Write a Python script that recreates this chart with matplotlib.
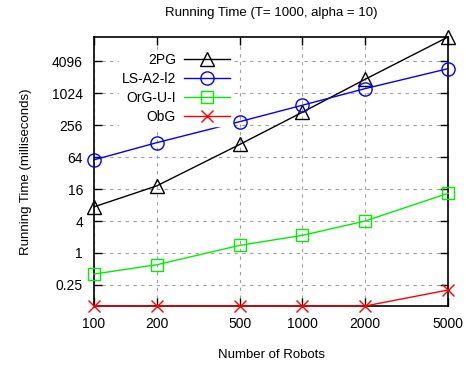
import matplotlib
matplotlib.use("Agg")
import matplotlib.pyplot as plt
from matplotlib.ticker import FixedLocator, NullLocator

plt.rcParams['font.family'] = ['Liberation Sans', 'DejaVu Sans']

robots = [100, 200, 500, 1000, 2000, 5000]
pg2 = [7.4, 18.4, 111, 450, 1880, 11800]
ls_a2_l2 = [57, 120, 299, 610, 1255, 2983]
org_u_i = [0.4, 0.6, 1.39, 2.15, 4.0, 13.3]
obg = [0.1, 0.1, 0.1, 0.1, 0.1, 0.2]
yticks = [0.25, 1, 4, 16, 64, 256, 1024, 4096]
ytick_labels = ['0.25', '1', '4', '16', '64', '256', '1024', '4096']
xtick_labels = ['100', '200', '500', '1000', '2000', '5000']

fig = plt.figure(figsize=(4.66, 3.68), dpi=100)
ax = fig.add_axes([94/466, 1-306/368, (448-94)/466, (306-37)/368])

ax.set_xscale('log')
ax.set_yscale('log', base=2)
ax.set_xlim(100, 5000)
ax.set_ylim(0.1, 11800)

kw = dict(linewidth=1.0, markerfacecolor='none', clip_on=False, zorder=3, markeredgewidth=1.0)
ax.plot(robots, pg2, color='black', marker='^', markersize=10.5, label='2PG', **kw)
ax.plot(robots, ls_a2_l2, color='#0000ff', marker='o', markersize=9.5, label='LS-A2-l2', **kw)
ax.plot(robots, org_u_i, color='#00ee00', marker='s', markersize=9, label='OrG-U-I', **kw)
ax.plot(robots, obg, color='#ff0000', marker='x', markersize=9, label='ObG', **kw)

ax.xaxis.set_major_locator(FixedLocator(robots))
ax.xaxis.set_minor_locator(NullLocator())
ax.set_xticklabels(xtick_labels)
ax.yaxis.set_major_locator(FixedLocator(yticks))
ax.yaxis.set_minor_locator(NullLocator())
ax.set_yticklabels(ytick_labels)

ax.tick_params(direction='in', length=6, width=1, top=True, right=True, labelsize=10, pad=8)
ax.grid(True, color='#a0a0a0', linestyle=(0, (3, 4)), linewidth=0.8)
for s in ax.spines.values():
    s.set_linewidth(1.2)

ax.set_title('Running Time (T= 1000, alpha = 10)', fontsize=9.5, pad=15)
ax.set_xlabel('Number of Robots', fontsize=9.5, labelpad=13)
ax.set_ylabel('Running Time (milliseconds)', fontsize=9.5, labelpad=14)

leg = ax.legend(loc='upper right', bbox_to_anchor=(0.41, 0.975), markerfirst=False, frameon=True,
                fontsize=10, handlelength=3.3, labelspacing=0.36, borderpad=0.15,
                fancybox=False, edgecolor='white', facecolor='white', framealpha=1.0,
                handletextpad=0.6)
leg.set_zorder(5)

fig.savefig('out.png', dpi=100)
